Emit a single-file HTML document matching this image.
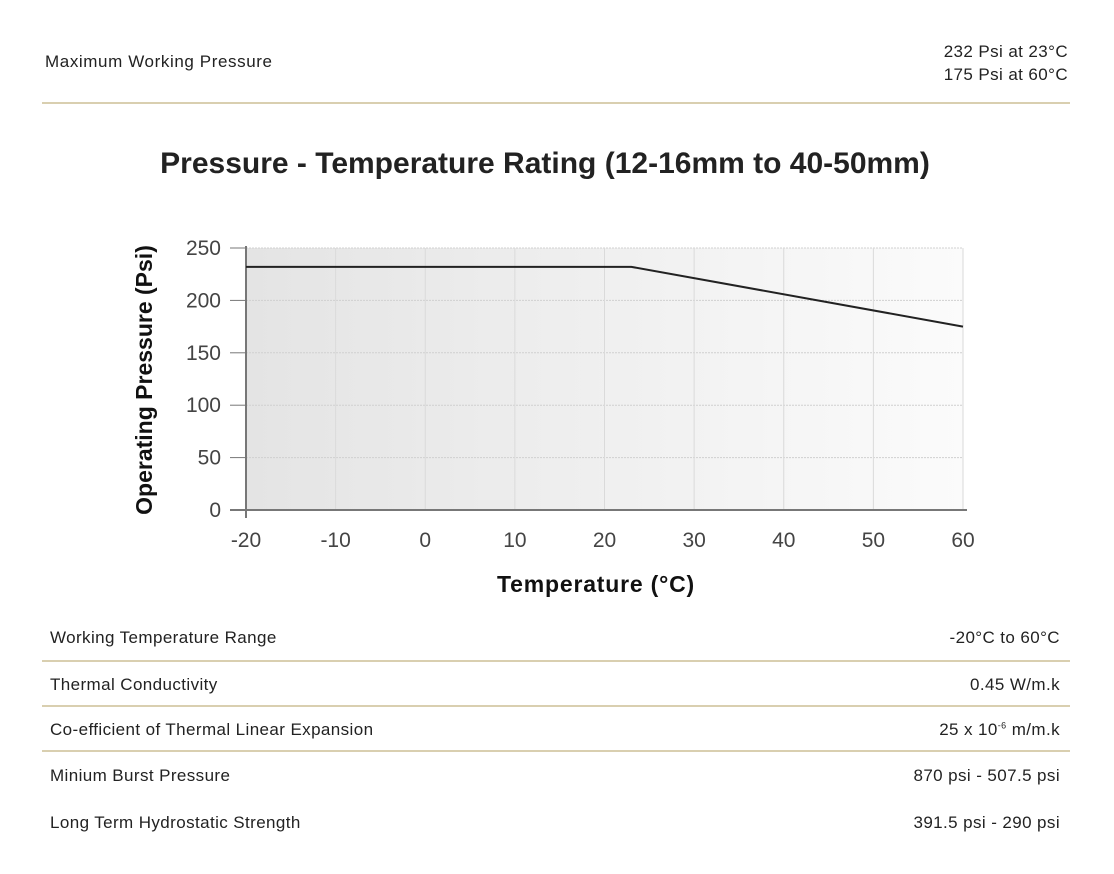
<!DOCTYPE html>
<html><head><meta charset="utf-8"><style>
body{margin:0;width:1114px;height:874px;background:#fff;font-family:"Liberation Sans",sans-serif;color:#222;position:relative;overflow:hidden}
.a{position:absolute;font-size:17px;letter-spacing:0.4px}
.r{text-align:right}
.hl{position:absolute;left:42px;width:1028px;height:2px;background:#d9cfb0}
sup{font-size:9px}
</style></head><body>
<div class="a" style="left:45px;top:52px;letter-spacing:0.6px">Maximum Working Pressure</div>
<div class="a r" style="right:46px;top:40px;line-height:23px">232 Psi at 23°C<br>175 Psi at 60°C</div>
<div class="hl" style="top:102px"></div>
<div class="a" style="left:0;width:1090px;text-align:center;top:147px;font-size:30px;font-weight:bold;letter-spacing:0">Pressure - Temperature Rating (12-16mm to 40-50mm)</div>
<svg id="chart" style="position:absolute;left:0;top:0" width="1114" height="874">
<defs><linearGradient id="bg" x1="0" x2="1" y1="0" y2="0"><stop offset="0" stop-color="#e4e4e4"/><stop offset="1" stop-color="#fbfbfb"/></linearGradient></defs>
</svg>
<div class="a" style="left:50px;top:628px">Working Temperature Range</div>
<div class="a r" style="right:54px;top:628px">-20°C to 60°C</div>
<div class="hl" style="top:660px"></div>
<div class="a" style="left:50px;top:675px">Thermal Conductivity</div>
<div class="a r" style="right:54px;top:675px">0.45 W/m.k</div>
<div class="hl" style="top:705px"></div>
<div class="a" style="left:50px;top:720px">Co-efficient of Thermal Linear Expansion</div>
<div class="a r" style="right:54px;top:720px">25 x 10<sup>-6</sup> m/m.k</div>
<div class="hl" style="top:750px"></div>
<div class="a" style="left:50px;top:766px">Minium Burst Pressure</div>
<div class="a r" style="right:54px;top:766px">870 psi - 507.5 psi</div>
<div class="a" style="left:50px;top:813px">Long Term Hydrostatic Strength</div>
<div class="a r" style="right:54px;top:813px">391.5 psi - 290 psi</div>
<script>
const xTicks=[-20,-10,0,10,20,30,40,50,60];
const yTicks=[0,50,100,150,200,250];
const temps=[-20,23,60];
const pressures=[232,232,175];
const X0=246,X1=963,Y0=510,Y1=248;
const sx=v=>X0+(v-(-20))/80*(X1-X0);
const sy=v=>Y0-v/250*(Y0-Y1);
const svg=document.getElementById('chart');
const NS='http://www.w3.org/2000/svg';
function mk(t,a){const e=document.createElementNS(NS,t);for(const k in a)e.setAttribute(k,a[k]);svg.appendChild(e);return e;}
let bg=mk('rect',{x:X0,y:Y1,width:X1-X0,height:Y0-Y1,fill:'url(#bg)'});


yTicks.forEach(v=>{
 let g=mk('line',{x1:X0,x2:X1,y1:sy(v),y2:sy(v),stroke:'#d0d0d0','stroke-dasharray':'2,1'});
 
 
 let tk=mk('line',{x1:X0-16,x2:X0,y1:sy(v),y2:sy(v),stroke:'#777'});
 
 
 let t=mk('text',{x:X0-25,y:sy(v)+7,'text-anchor':'end','font-size':'21',fill:'#444','font-family':'Liberation Sans, sans-serif'});
 t.textContent=v;
 
 
});
xTicks.forEach(v=>{
 let g=mk('line',{x1:sx(v),x2:sx(v),y1:Y1,y2:Y0,stroke:'#dadada'});
 
 
 let t=mk('text',{x:sx(v),y:547,'text-anchor':'middle','font-size':'21',fill:'#444','font-family':'Liberation Sans, sans-serif'});
 t.textContent=v;
 
 
});
let ya=mk('line',{x1:X0,x2:X0,y1:Y1-2,y2:Y0+8,stroke:'#777','stroke-width':2});


let xa=mk('line',{x1:X0-16,x2:X1+4,y1:Y0,y2:Y0,stroke:'#777','stroke-width':2});


let ln=mk('polyline',{points:temps.map((t,i)=>sx(t)+','+sy(pressures[i])).join(' '),fill:'none',stroke:'#222','stroke-width':2});


let xt=mk('text',{x:596,y:592,'text-anchor':'middle','font-size':'23','font-weight':'bold','letter-spacing':'0.8',fill:'#111','font-family':'Liberation Sans, sans-serif'});
xt.textContent='Temperature (°C)';


let yt=mk('text',{x:0,y:0,'text-anchor':'middle','font-size':'23','font-weight':'bold',fill:'#111','font-family':'Liberation Sans, sans-serif',transform:'translate(152,380) rotate(-90)'});
yt.textContent='Operating Pressure (Psi)';


</script>
</body></html>
